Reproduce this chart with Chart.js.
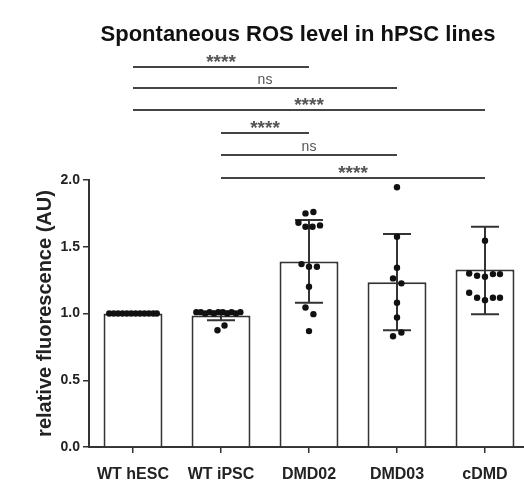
<!DOCTYPE html>
<html>
<head>
<meta charset="utf-8">
<script src="https://cdn.jsdelivr.net/npm/chart.js@4"></script>
<style>
  html, body { margin: 0; padding: 0; background: #fff; overflow: hidden; }
  canvas { display: block; }
</style>
</head>
<body>
<canvas id="rosChart" width="535" height="487"></canvas>
<script>
// categories and bar values (mean)
const categories = ["WT hESC", "WT iPSC", "DMD02", "DMD03", "cDMD"];
const means = [1.0, 0.985, 1.39, 1.235, 1.33];
// SD error bar ends
const errLow = [1.0, 0.95, 1.08, 0.875, 0.995];
const errHigh = [1.0, 1.015, 1.70, 1.595, 1.65];

// individual replicates: value + horizontal jitter (category units)
const wtHescY = [1, 1, 1, 1, 1, 1, 1, 1, 1, 1, 1, 1];
const wtHescDx = [-0.27, -0.22, -0.17, -0.12, -0.07, -0.02, 0.03, 0.08, 0.13, 0.18, 0.23, 0.27];
const wtIpscY = [1.01, 1.01, 1.0, 1.01, 1.0, 1.01, 1.01, 1.0, 1.01, 1.0, 1.01, 0.91, 0.875];
const wtIpscDx = [-0.28, -0.23, -0.18, -0.13, -0.08, -0.03, 0.02, 0.07, 0.12, 0.17, 0.22, 0.04, -0.04];
const dmd02Y = [1.75, 1.76, 1.68, 1.65, 1.65, 1.66, 1.37, 1.35, 1.35, 1.20, 1.045, 0.995, 0.868];
const dmd02Dx = [-0.04, 0.05, -0.12, -0.04, 0.04, 0.125, -0.085, 0.0, 0.09, 0.0, -0.04, 0.05, 0.0];
const dmd03Y = [1.946, 1.575, 1.343, 1.263, 1.226, 1.08, 0.97, 0.858, 0.83];
const dmd03Dx = [0.0, 0.0, 0.0, -0.045, 0.05, 0.0, 0.0, 0.05, -0.045];
const cdmdY = [1.545, 1.30, 1.283, 1.275, 1.295, 1.295, 1.155, 1.118, 1.10, 1.118, 1.118];
const cdmdDx = [0.0, -0.18, -0.09, 0.0, 0.09, 0.17, -0.18, -0.09, 0.0, 0.09, 0.17];

// significance brackets: from, to, level (y units), label
const sigFrom = [0, 0, 0, 1, 1, 1];
const sigTo = [2, 3, 4, 2, 3, 4];
const sigLevel = [2.85, 2.69, 2.525, 2.35, 2.19, 2.018];
const sigLabel = ["****", "ns", "****", "****", "ns", "****"];

const yTicks = [0, 0.5, 1.0, 1.5, 2.0];

const ink = "#333";
const groupsY = [wtHescY, wtIpscY, dmd02Y, dmd03Y, cdmdY];
const groupsDx = [wtHescDx, wtIpscDx, dmd02Dx, dmd03Dx, cdmdDx];
const points = [];
groupsY.forEach((ys, i) => {
  ys.forEach((v, j) => points.push({ x: i + groupsDx[i][j], y: v }));
});

const errorBars = {
  id: "errorBars",
  afterDatasetDraw(chart, args) {
    if (args.index !== 0) return;
    const c = chart.ctx, xs = chart.scales.xs, y = chart.scales.y;
    c.save();
    c.strokeStyle = ink;
    c.lineWidth = 2;
    categories.forEach((_, i) => {
      if (errHigh[i] === errLow[i]) return;
      const px = xs.getPixelForValue(i);
      const top = y.getPixelForValue(errHigh[i]);
      const bot = y.getPixelForValue(errLow[i]);
      c.beginPath();
      c.moveTo(px, top); c.lineTo(px, bot);
      c.moveTo(px - 14, top); c.lineTo(px + 14, top);
      c.moveTo(px - 14, bot); c.lineTo(px + 14, bot);
      c.stroke();
    });
    c.restore();
  }
};

const annotations = {
  id: "annotations",
  afterDraw(chart) {
    const c = chart.ctx, xs = chart.scales.xs, y = chart.scales.y;
    c.save();
    // title
    c.fillStyle = "#111";
    c.font = "bold 22px 'Liberation Sans', Arial, sans-serif";
    c.textAlign = "center";
    c.textBaseline = "middle";
    c.fillText("Spontaneous ROS level in hPSC lines", 298, 35);
    // brackets
    c.strokeStyle = "#444";
    c.lineWidth = 2;
    c.fillStyle = "#555";
    c.textBaseline = "alphabetic";
    sigLabel.forEach((lab, k) => {
      const x1 = xs.getPixelForValue(sigFrom[k]);
      const x2 = xs.getPixelForValue(sigTo[k]);
      const py = Math.round(y.getPixelForValue(sigLevel[k]));
      c.beginPath();
      c.moveTo(x1, py); c.lineTo(x2, py);
      c.stroke();
      c.font = lab === "ns" ? "14px 'Liberation Sans', Arial, sans-serif"
                            : "bold 19px 'Liberation Sans', Arial, sans-serif";
      c.fillText(lab, (x1 + x2) / 2, lab === "ns" ? py - 4 : py + 1);
    });
    c.restore();
  }
};

const ctx = document.getElementById("rosChart").getContext("2d");
const rosChart = new Chart(ctx, {
  data: {
    labels: categories,
    datasets: [
      {
        type: "bar",
        data: means,
        backgroundColor: "#fff",
        borderColor: ink,
        borderWidth: 2,
        grouped: false,
        barPercentage: 0.67,
        categoryPercentage: 1.0,
        order: 1,
      },
      {
        type: "scatter",
        xAxisID: "xs",
        data: points,
        pointRadius: 3.2,
        pointBackgroundColor: "#111",
        pointBorderWidth: 0,
        order: 0,
      },
    ],
  },
  plugins: [errorBars, annotations],
  options: {
    responsive: false,
    animation: false,
    layout: { padding: { top: 180, right: 6, left: 0, bottom: 0 } },
    plugins: { legend: { display: false }, tooltip: { enabled: false }, title: { display: false } },
    scales: {
      x: {
        type: "category",
        offset: true,
        afterFit: (s) => { s.height = 40; },
        border: { display: true, color: ink, width: 2 },
        grid: { display: true, drawOnChartArea: false, drawTicks: true, tickLength: 6, color: ink, lineWidth: 1.5, offset: false },
        ticks: { color: "#222", padding: 12, font: { family: "'Liberation Sans', Arial, sans-serif", size: 16, weight: "bold" } },
      },
      xs: {
        type: "linear",
        display: false,
        min: -0.5,
        max: 4.5,
      },
      y: {
        min: 0,
        max: 2.0,
        afterFit: (s) => { s.width = 89; },
        afterBuildTicks: (s) => { s.ticks = yTicks.map((v) => ({ value: v })); },
        border: { display: true, color: ink, width: 2 },
        grid: { display: true, drawOnChartArea: false, drawTicks: true, tickLength: 6, color: ink, lineWidth: 1.5 },
        ticks: {
          color: "#222",
          padding: 3,
          callback: (v) => v.toFixed(1),
          font: { family: "'Liberation Sans', Arial, sans-serif", size: 14, weight: "bold" },
        },
        title: {
          display: true,
          text: "relative fluorescence (AU)",
          color: "#222",
          padding: { top: 33, bottom: 0 },
          font: { family: "'Liberation Sans', Arial, sans-serif", size: 20, weight: "bold" },
        },
      },
    },
  },
});
</script>
</body>
</html>
